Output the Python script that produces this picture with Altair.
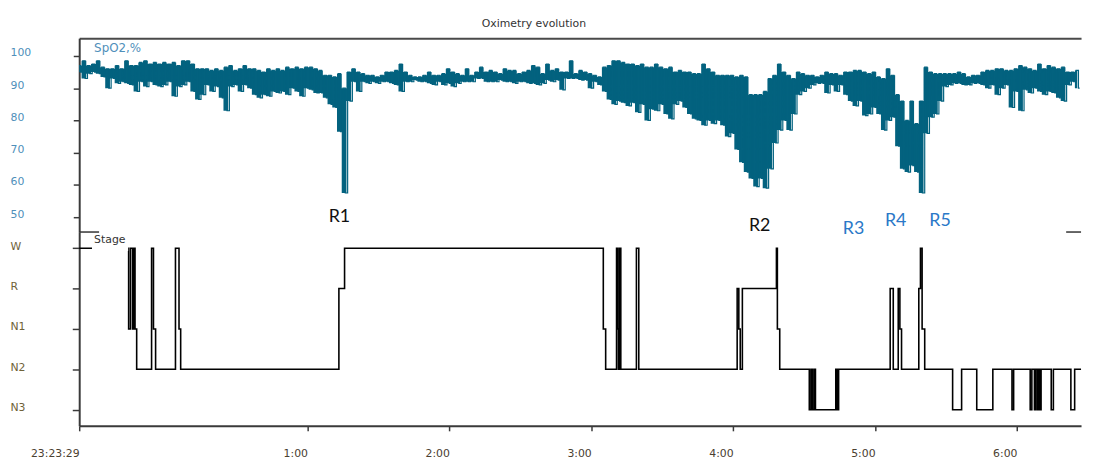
import json
import altair as alt
import pandas as pd

# ---------------- data ----------------
START = "2024-01-01 23:23:29"
END_MIN = 423.6            # minutes shown after the start time
SAMPLE_MIN = 2.0           # SpO2 envelope sampling interval (minutes)

# SpO2 upper / lower envelope (%), one pair per 2-minute sample
spo2_hi = [97, 98.5, 97, 97.5, 98.5, 96.5, 96, 96, 97, 96,
           98.5, 97, 97, 98, 98.5, 97.5, 98, 97.5, 98, 97.5,
           98, 97, 98.5, 98.5, 97.5, 96, 96, 96, 95.5, 96,
           95.5, 96.5, 97, 95.5, 96, 97, 96, 96, 95.5, 95,
           96, 95.5, 96,
           95.5, 96.5, 96, 96.5, 96, 96.5, 96.5,
           96, 95.5, 94, 94, 93.5, 94.5, 90, 95, 96, 95,
           94.5, 94, 94, 93.5, 94, 95, 95, 95.5, 97.5, 95,
           94, 93.5, 93.5, 94, 95, 94, 94, 94.5, 96, 95,
           94.5, 94, 96, 94, 95,
           96.5, 95, 95.5, 95, 94.5,
           96, 95.5, 95.5, 94.5, 95, 95.5, 97, 96.5, 94.5, 97.5,
           95.5, 96, 95, 95, 98.5, 94.5, 95.5, 95, 94.5, 94,
           93.5, 96.5, 97, 98.5, 98.5, 98, 97.5, 97.5, 97, 97.5,
           96.5, 96.5, 97.5, 96.5, 96, 96.5, 95,
           95.5, 95, 95,
           94.5, 94.5, 97.5, 96, 95, 94, 94, 94, 94, 93.5,
           94, 93.5, 88, 88, 88, 89, 93, 94, 97.5, 95,
           94, 93, 95, 94.5, 94, 94, 93.5, 94, 95, 94.5,
           94.5, 94, 95, 95, 95.5, 95.5, 95, 94.5, 95,
           93.5, 93, 96, 94, 88, 86, 80, 86, 79, 86, 96.5,
           95, 94.5, 94.5, 94.5, 94.5, 94.5, 95, 94.5, 93.5, 94,
           94, 95, 95.5, 95.5, 96, 96, 95.5, 95.5, 96, 97,
           96.5, 96, 95.5, 97.5, 96, 97, 96.5, 96, 96.5, 95,
           95, 95.5]
spo2_lo = [95, 93, 94.5, 95, 94.5, 93.5, 90, 93, 91.5, 92,
           91.5, 91, 89, 92, 90.5, 92, 91, 90.5, 91, 92,
           87.5, 90.5, 91, 92, 89, 86.5, 88, 91, 89, 90.5,
           87, 83, 90.5, 91, 89, 91, 90, 88, 87, 88,
           87.5, 89, 88.5,
           89, 88, 90, 89, 87.5, 90, 89.5,
           88.5, 88.5, 87, 85, 84, 76.5, 57.5, 86, 92, 89,
           92, 91.5, 92, 91.5, 92, 92, 91.5, 91, 89, 92,
           92, 92.5, 92, 92, 91.5, 91, 92, 91, 91.5, 90.5,
           91.5, 92, 92, 92, 93,
           93, 92, 92, 92, 92.5,
           92, 92, 91.5, 92, 92, 91.5, 91.5, 91, 91.5, 92.5,
           92, 92.5, 89.5, 93, 93, 93, 92.5, 92.5, 90, 92,
           91, 89, 86.5, 85, 86, 85.5, 84.5, 85.5, 82.5, 85,
           80, 83.5, 83, 85, 82, 80.5, 85,
           86, 84, 82,
           80.5, 80, 78.5, 80, 79, 80, 78.5, 75, 76, 71,
           67, 64, 62, 59.5, 62, 59, 65, 73, 77, 80,
           77, 82, 88, 89, 90, 91, 91.5, 91.5, 88.5, 91,
           89, 91, 88, 86, 84.5, 86, 81.5, 82, 84,
           82, 77, 80, 81, 72, 65, 64, 66, 64, 57.5, 76,
           81, 82, 86, 90.5, 91, 91.5, 91.5, 91, 91, 91.5,
           91.5, 91, 90, 91, 88, 90, 91, 84, 89, 83,
           89.5, 88.5, 90, 89, 88, 89, 88.5, 87, 86, 91,
           92, 90]

# Hypnogram: minute (from start) where each stage begins
hyp_min = [0, 20.9, 21.7, 22.6, 23.2, 23.6, 24.3, 30.6, 31.4, 32.3,
           40.7, 42.2, 42.9, 109.8, 112.2, 221.6, 222.6, 227.2, 227.7, 228.0,
           228.4, 229.0, 235.6, 236.6, 278.2, 278.9, 279.5, 280.4, 294.8, 295.2,
           296.2, 308.7, 309.4, 310.0, 310.7, 311.3, 319.9, 320.5, 321.1, 342.9,
           344.2, 346.3, 347.0, 347.7, 355.0, 355.7, 356.4, 357.5, 369.3, 373.1,
           379.5, 386.3, 394.4, 395.1, 402.1, 402.8, 403.9, 404.5, 405.2, 405.8,
           406.2, 406.7, 411.0, 411.9, 419.3, 420.9, 423.6]
hyp_stage = ["W", "N1", "W", "N1", "W", "N1", "N2", "W", "N1", "N2",
             "W", "N1", "N2", "R", "W", "N1", "N2", "W", "N1", "N2",
             "W", "N2", "W", "N2", "R", "N1", "N2", "R", "W", "N1",
             "N2", "N3", "N2", "N3", "N2", "N3", "N2", "N3", "N2", "R",
             "N2", "R", "N1", "N2", "R", "W", "N1", "N2", "N3", "N2",
             "N3", "N2", "N3", "N2", "N3", "N2", "N3", "N2", "N3", "N2",
             "N3", "N2", "N3", "N2", "N3", "N2", "N2"]
stage_order = ["N3", "N2", "N1", "R", "W"]

# Event annotations
ann_text = ["R1", "R2", "R3", "R4", "R5"]
ann_min = [110.0, 287.7, 327.4, 345.2, 364.0]
ann_spo2 = [48.6, 45.7, 44.8, 47.4, 47.4]
ann_color = ["#111111", "#111111", "#2a78c8", "#2a78c8", "#2a78c8"]

spo2_ticks = [50, 60, 70, 80, 90, 100]
x_tick_labels = ["23:23:29", "1:00", "2:00", "3:00", "4:00", "5:00", "6:00"]

# ---------------- helpers ----------------
t0 = pd.Timestamp(START)


def ts(m):
    t = t0 + pd.Timedelta(minutes=m)
    return t.strftime("%Y-%m-%dT%H:%M:%S.") + f"{t.microsecond // 1000:03d}"


def dt(t):
    return alt.DateTime(year=t.year, month=t.month, date=t.day,
                        hours=t.hour, minutes=t.minute, seconds=t.second)


tick_times = [t0] + [pd.Timestamp(f"2024-01-02 {s}") for s in x_tick_labels[1:]]
x_dom = [dt(t0), dt(t0 + pd.Timedelta(minutes=END_MIN))]

spo2_df = pd.DataFrame({
    "t": [ts(i * SAMPLE_MIN) for i in range(len(spo2_hi))],
    "hi": spo2_hi,
    "lo": spo2_lo,
})
zig = []
for i, (h, l) in enumerate(zip(spo2_hi, spo2_lo)):
    zig.append({"t": ts(i * SAMPLE_MIN), "hi": h})
    zig.append({"t": ts(i * SAMPLE_MIN + SAMPLE_MIN / 2), "hi": l})
zig_df = pd.DataFrame(zig)

hyp_df = pd.DataFrame({"t": [ts(m) for m in hyp_min],
                       "s": [stage_order.index(s) for s in hyp_stage]})
ann_df = pd.DataFrame({"t": [ts(m) for m in ann_min], "hi": ann_spo2,
                       "label": ann_text, "c": ann_color})

FONT = "DejaVu Sans"
AX = "#3a3a3a"
TEAL = "#03627f"

xscale = alt.Scale(domain=x_dom)

# ---------------- top panel: SpO2 ----------------
x_top = alt.X("t:T", scale=xscale,
              axis=alt.Axis(orient="top", labels=False, ticks=False, domain=True,
                            domainColor="#4a4a4a", domainWidth=2, grid=False, title=None))
y_top = alt.Y("hi:Q", scale=alt.Scale(domain=[45.4, 105.5], nice=False, zero=False),
              axis=alt.Axis(values=spo2_ticks, title=None, grid=False, tickSize=6,
                            tickColor=AX, tickWidth=1.5, domainColor=AX, domainWidth=2,
                            labelAlign="left", labelPadding=64, labelBaseline="alphabetic",
                            labelFont=FONT, labelFontSize=11, labelColor="#4f8fba"))

spo2_band = alt.Chart(spo2_df).mark_area(interpolate="step", color=TEAL, opacity=1).encode(
    x=x_top, y=y_top, y2="lo:Q")
spo2_zig = alt.Chart(zig_df).mark_line(interpolate="step", color=TEAL,
                                       strokeWidth=1.2).encode(x=x_top, y=y_top)

spo2_lbl = alt.Chart(pd.DataFrame({"t": [ts(6.3)], "hi": [102.5], "txt": ["SpO2,%"]})).mark_text(
    align="left", baseline="middle", font=FONT, fontSize=12, color="#4f8fba"
).encode(x=x_top, y=y_top, text="txt:N")

ann = alt.Chart(ann_df).mark_text(align="center", baseline="alphabetic", font="Lato",
                                  fontSize=18).encode(
    x=x_top, y=y_top, text="label:N", color=alt.Color("c:N", scale=None))

top = alt.layer(spo2_band, spo2_zig, spo2_lbl, ann).properties(
    width=1013, height=196,
    title=alt.TitleParams("Oximetry evolution", font=FONT, fontSize=11, fontWeight="normal",
                          color="#333333", anchor="start", frame="group", dx=407,
                          offset=-2, baseline="bottom"))

# ---------------- bottom panel: hypnogram ----------------
x_bot = alt.X("t:T", scale=xscale,
              axis=alt.Axis(values=[dt(t) for t in tick_times], title=None, grid=False,
                            labelExpr="hours(datum.value) == 23 ? timeFormat(datum.value, '%H:%M:%S') : timeFormat(datum.value, '%-H:%M')",
                            labelAlign="right", labelBaseline="top", labelPadding=17,
                            labelFlush=False, labelOverlap=False, tickSize=5,
                            tickColor=AX, tickWidth=1.5, domainColor=AX, domainWidth=2,
                            labelFont=FONT, labelFontSize=11, labelColor="#4a4030"))
y_bot = alt.Y("s:Q", scale=alt.Scale(domain=[-0.4, 4.4], nice=False, zero=False),
              axis=alt.Axis(values=[0, 1, 2, 3, 4], title=None, grid=False,
                            labelExpr=json.dumps(stage_order) + "[datum.value]",
                            tickSize=7, tickColor=AX, tickWidth=1.5, domainColor=AX,
                            domainWidth=2, labelAlign="left", labelPadding=63,
                            labelBaseline="alphabetic", labelOffset=1,
                            labelFont=FONT, labelFontSize=11, labelColor="#6f6238"))

hyp = alt.Chart(hyp_df).mark_line(interpolate="step-after", color="black",
                                  strokeWidth=1.6).encode(x=x_bot, y=y_bot)

sep_df = pd.DataFrame({"t": [ts(0), ts(417.3)], "t2": [ts(8.4), ts(END_MIN)], "s": [4.4, 4.4]})
sep = alt.Chart(sep_df).mark_rule(color="#333333", strokeWidth=1.5).encode(
    x=x_bot, x2="t2:T", y=y_bot)

box_df = pd.DataFrame({"t": [ts(5.4)], "t2": [ts(20.7)], "s": [4.35], "s2": [3.93]})
box = alt.Chart(box_df).mark_rect(color="white").encode(x=x_bot, x2="t2:T", y=y_bot, y2="s2:Q")

stage_lbl = alt.Chart(pd.DataFrame({"t": [ts(6.3)], "s": [4.19], "txt": ["Stage"]})).mark_text(
    align="left", baseline="middle", font=FONT, fontSize=11, color="#333333"
).encode(x=x_bot, y=y_bot, text="txt:N")

bottom = alt.layer(hyp, sep, box, stage_lbl).properties(width=1013, height=196)

chart = alt.vconcat(top, bottom, spacing=0, bounds="flush").properties(
    padding={"left": 2, "top": 8, "right": 0, "bottom": 0}
).configure_view(stroke=None)

chart.save("out.html", embed_options={"renderer": "svg", "actions": False})
